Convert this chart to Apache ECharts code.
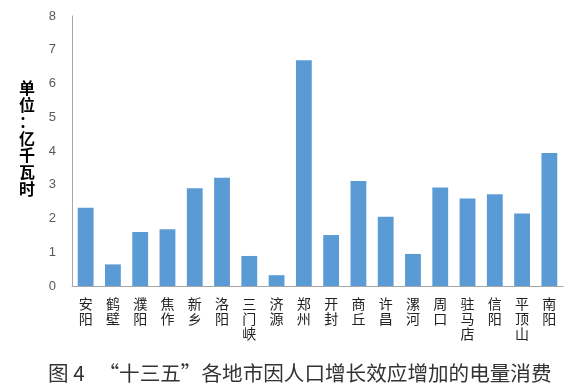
<!DOCTYPE html>
<html><head><meta charset="utf-8">
<style>html,body{margin:0;padding:0;background:#fff}#c{width:576px;height:388px}</style>
<script src="https://cdn.jsdelivr.net/npm/echarts@6/dist/echarts.min.js"></script>
</head><body><div id="c"></div>
<script>
const categories = ['安阳','鹤壁','濮阳','焦作','新乡','洛阳','三门峡','济源','郑州','开封','商丘','许昌','漯河','周口','驻马店','信阳','平顶山','南阳'];
const values = [2.32,0.64,1.60,1.68,2.90,3.21,0.89,0.32,6.69,1.51,3.11,2.05,0.95,2.92,2.59,2.72,2.15,3.94];
const yTicks = [0,1,2,3,4,5,6,7,8];
const yName = '单位：亿千瓦时';
const titleText = '图\u00a04\u00a0\u00a0\u00a0“十三五”各地市因人口增长效应增加的电量消费';

const chart = echarts.init(document.getElementById('c'));
chart.setOption({
  animation:false,
  grid:{left:72,right:13,top:16,bottom:102},
  title:{text:titleText,left:43,top:358,textStyle:{fontFamily:'Noto Sans CJK SC',fontWeight:'normal',fontSize:20.6,color:'#333'}},
  graphic:[{type:'text',left:19,top:80,style:{text:yName.split('').join('\n'),font:'bold 16px "Noto Sans CJK SC"',lineHeight:16.7,fill:'#000',align:'center'}}],
  xAxis:{type:'category',data:categories,
    axisLine:{lineStyle:{color:'#a6a6a6',width:1}},axisTick:{show:false},
    axisLabel:{interval:0,margin:10,color:'#222',fontSize:14,lineHeight:15,fontFamily:'Noto Sans CJK SC',
      formatter:v=>v.split('').join('\n')}},
  yAxis:{type:'value',min:yTicks[0],max:yTicks[yTicks.length-1],interval:1,
    axisLine:{show:true,lineStyle:{color:'#a6a6a6',width:1}},axisTick:{show:false},splitLine:{show:false},
    axisLabel:{color:'#595959',fontSize:13,margin:16,fontFamily:'Liberation Sans'}},
  series:[{type:'bar',data:values,barWidth:'58%',itemStyle:{color:'#5b9bd5'}}]
});
</script></body></html>
